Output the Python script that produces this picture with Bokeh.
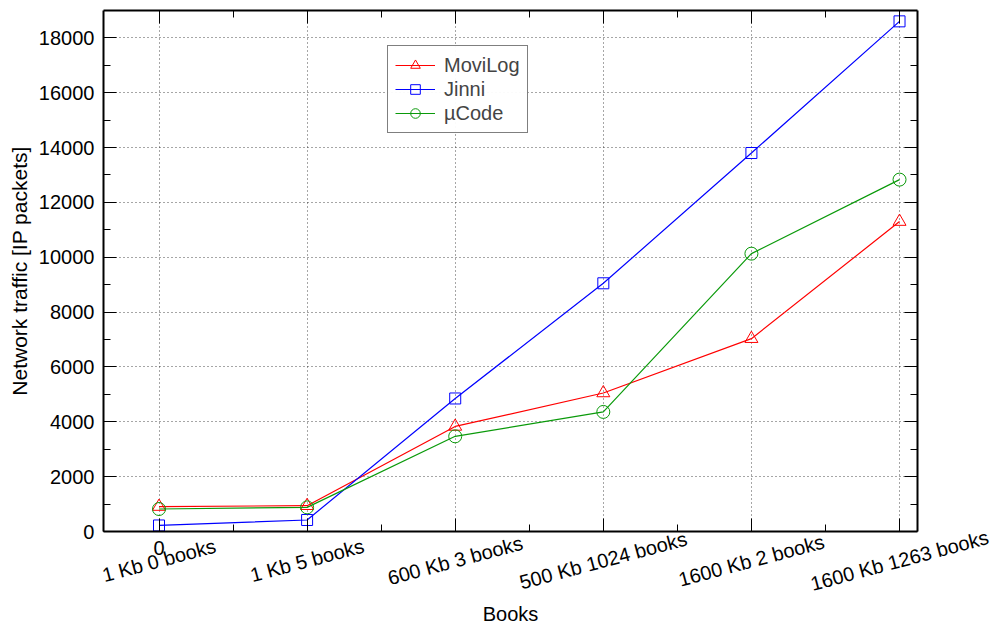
import math
from bokeh.plotting import figure
from bokeh.models import (Range1d, FixedTicker, LinearAxis, Legend, LegendItem,
                          LabelSet, ColumnDataSource)
from bokeh.core.properties import value
from bokeh.embed import file_html
from bokeh.resources import INLINE

x = [0, 1, 2, 3, 4, 5]
x_labels = ["1 Kb 0 books", "1 Kb 5 books", "600 Kb 3 books", "500 Kb 1024 books",
            "1600 Kb 2 books", "1600 Kb 1263 books"]
movilog = [910, 940, 3830, 5050, 7030, 11300]
jinni = [220, 420, 4850, 9050, 13800, 18600]
ucode = [820, 880, 3470, 4360, 10130, 12830]

y_major = list(range(0, 18001, 2000))
y_minor = list(range(1000, 19000, 1000))
x_minor = [0.5, 1.5, 2.5, 3.5, 4.5]

FONT = "Liberation Sans"
# plot box (axes) and visible canvas ranges
BX0, BX1 = -0.375, 5.121
BY0, BY1 = 0, 19000

p = figure(width=991, height=623, output_backend="svg", toolbar_location=None,
           x_range=Range1d(-1.0702, 5.621), y_range=Range1d(-3354, 19360),
           min_border=0)
p.background_fill_color = "white"
p.border_fill_color = "white"
p.outline_line_color = None

xa = p.xaxis[0]
ya = p.yaxis[0]
xa.ticker = FixedTicker(ticks=x, minor_ticks=x_minor)
xa.fixed_location = BY0
xa.bounds = (BX0, BX1)
ya.ticker = FixedTicker(ticks=y_major, minor_ticks=y_minor)
ya.fixed_location = BX0
ya.bounds = (BY0, BY1)
xa.major_label_overrides = {t: ("0" if t == 0 else "") for t in x}
xa.axis_label = "Books"
ya.axis_label = "Network traffic [IP packets]"

for ax in (xa, ya):
    ax.axis_line_color = "black"
    ax.axis_line_width = 2
    ax.major_tick_in = 13
    ax.major_tick_out = 0
    ax.minor_tick_in = 7
    ax.minor_tick_out = 0
    ax.major_tick_line_color = "black"
    ax.minor_tick_line_color = "black"
    ax.major_label_text_font = FONT
    ax.major_label_text_font_size = "20px"
    ax.major_label_text_color = "black"
    ax.axis_label_text_font = FONT
    ax.axis_label_text_font_size = "20px"
    ax.axis_label_text_font_style = "normal"
    ax.axis_label_text_color = "black"
ya.axis_label_text_font_size = "21px"
ya.major_label_standoff = 9
ya.axis_label_standoff = 5
xa.major_label_standoff = 9
xa.axis_label_standoff = 45

# mirrored ticks on the right and top
right = LinearAxis(ticker=FixedTicker(ticks=y_major, minor_ticks=y_minor),
                   fixed_location=BX1, bounds=(BY0, BY1))
right.major_label_overrides = {t: "" for t in y_major}
top = LinearAxis(ticker=FixedTicker(ticks=x, minor_ticks=x_minor),
                 fixed_location=BY1, bounds=(BX0, BX1))
top.major_label_overrides = {t: "" for t in x}
for ax in (right, top):
    ax.major_label_standoff = 0
    ax.major_tick_in = 13
    ax.major_tick_out = 0
    ax.minor_tick_in = 7
    ax.minor_tick_out = 0
    ax.axis_line_color = "black"
    ax.axis_line_width = 2
p.add_layout(right, "right")
p.add_layout(top, "above")

for g in (p.xgrid[0], p.ygrid[0]):
    g.grid_line_color = "#222222"
    g.grid_line_dash = "1 3"
    g.grid_line_alpha = 0.8
p.xgrid[0].cross_bounds = (BY0, BY1)
p.ygrid[0].cross_bounds = (BX0, BX1)

red = "#ff0000"
blue = "#0000ff"
green = "#0a9a0a"

l1 = p.line(x, movilog, line_color=red, line_width=1.2)
m1 = p.scatter(x, movilog, marker="triangle", size=13, line_color=red, fill_color=None)
l2 = p.line(x, jinni, line_color=blue, line_width=1.2)
m2 = p.scatter(x, jinni, marker="square", size=11, line_color=blue, fill_color=None)
l3 = p.line(x, ucode, line_color=green, line_width=1.2)
m3 = p.scatter(x, ucode, marker="circle", size=13, line_color=green, fill_color=None)

legend = Legend(items=[LegendItem(label="MoviLog", renderers=[l1, m1]),
                       LegendItem(label="Jinni", renderers=[l2, m2]),
                       LegendItem(label="µCode", renderers=[l3, m3])],
                location=(387, 490))
legend.label_text_font = FONT
legend.label_text_font_size = "20px"
legend.border_line_color = "black"
legend.border_line_width = 1.5
legend.glyph_width = 40
legend.label_standoff = 9
legend.spacing = 0
legend.padding = 7
legend.margin = 0
legend.label_height = 24
legend.glyph_height = 24
p.add_layout(legend, "center")

src = ColumnDataSource(dict(x=x, y=[BY0] * len(x), label=x_labels))
labels = LabelSet(x="x", y="y", text="label", source=src, angle=math.radians(15),
                  text_align="center", text_baseline="middle", y_offset=-29,
                  text_font=value(FONT), text_font_size=value("20px"), text_color="black")
p.add_layout(labels)

open("out.html", "w").write(file_html(p, INLINE))
